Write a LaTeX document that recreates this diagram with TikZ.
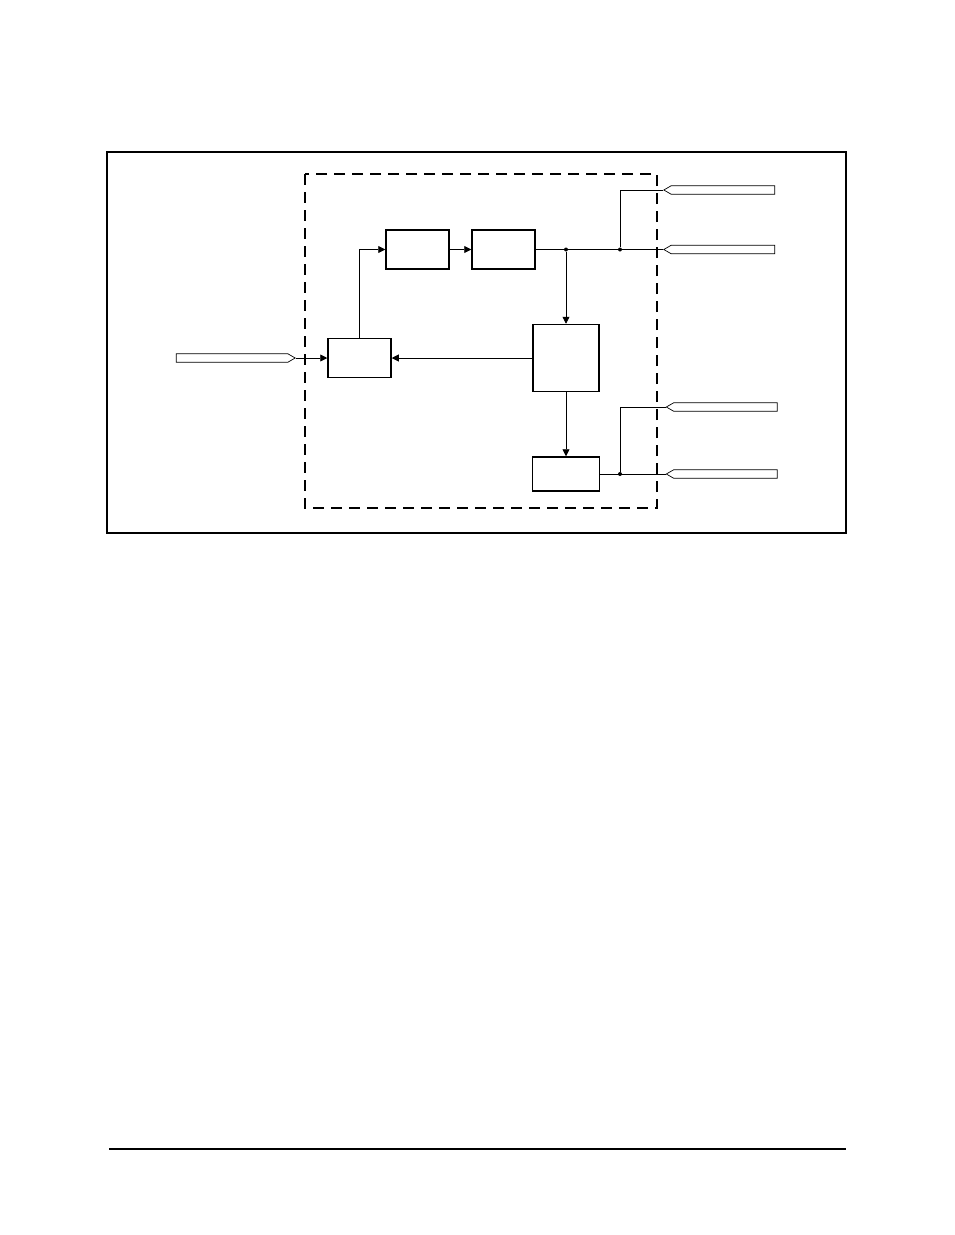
\documentclass[tikz,border=0pt]{standalone}
\usetikzlibrary{arrows.meta,shapes.symbols}

\begin{document}
\begin{tikzpicture}[
  x=1pt, y=-1pt,
  >=Triangle,
  blk/.style={
    draw,
    line width=1.5pt,
    minimum width=#1,
    inner sep=0pt,
  },
  blk/.default=63pt,
  arr/.style={
    -{Triangle[length=7pt,width=7pt]},
    line width=0.8pt,
  },
  wire/.style={
    line width=0.8pt,
  },
  sig/.style={
    draw,
    signal,
    signal to=#1,
    signal pointer angle=60,
    line width=0.7pt,
    minimum width=111pt,
    minimum height=8.5pt,
    inner sep=0pt,
  },
  dot/.style={
    circle,
    fill,
    inner sep=0pt,
    minimum size=4pt,
  },
]
\useasboundingbox (0,0) rectangle (954,1235);

% Frames
\draw[line width=1.3pt] (107,152) rectangle (846,533);
\draw[line width=2pt, dash pattern=on 11pt off 7pt] (305,174) rectangle (657,508);

% Blocks
\node[blk, minimum height=39pt] (filt) at (417.5,249.5) {};
\node[blk, minimum height=39pt] (amp)  at (503.5,249.5) {};
\node[blk, minimum height=39pt] (ctrl) at (359.5,358)   {};
\node[blk=66pt, minimum height=67pt] (proc) at (566,358) {};
\node[blk=67pt, minimum height=34pt] (drv)  at (566,474) {};

% Signal pins
\node[sig=east, minimum width=119pt] (in) at (232,358) {};
\node[sig=west] (out1) at (723,190) {};
\node[sig=west] (out2) at (723,249.5) {};
\node[sig=west] (out3) at (725.5,407) {};
\node[sig=west] (out4) at (725.5,474) {};

% Junctions
\node[dot] (j1) at (566,249.5) {};
\node[dot] (j2) at (620,249.5) {};
\node[dot] (j3) at (620,474)   {};

% Connections
\draw[arr] (in.east)    -- (ctrl.west);
\draw[arr] (ctrl.north) |- (filt.west);
\draw[arr] (filt)       -- (amp);
\draw[wire] (amp.east)  -- (out2.west);
\draw[wire] (j2)        |- (out1.west);
\draw[arr] (j1)         -- (proc.north);
\draw[arr] (proc.west)  -- (ctrl.east);
\draw[arr] (proc.south) -- (drv.north);
\draw[wire] (drv.east)  -- (out4.west);
\draw[wire] (j3)        |- (out3.west);

% Footer rule
\draw[line width=1.3pt] (109,1149) -- (846,1149);

\end{tikzpicture}
\end{document}
